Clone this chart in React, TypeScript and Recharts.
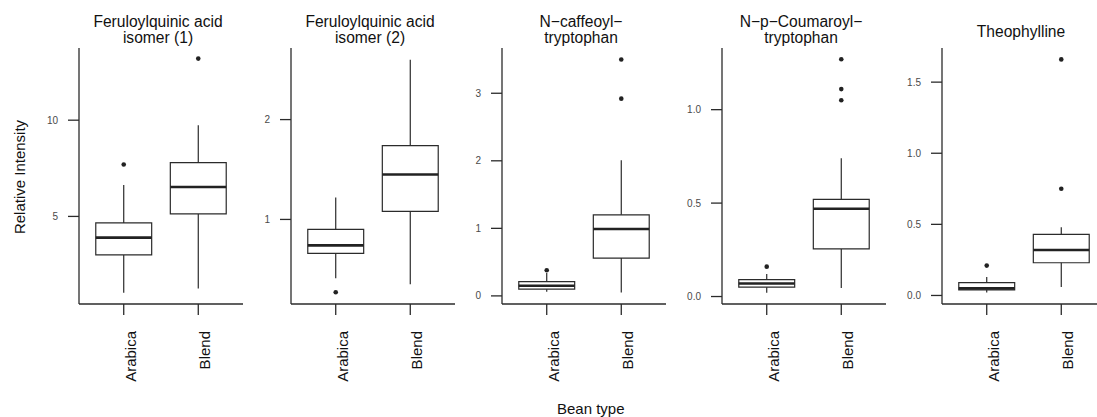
import React from 'react';
import { ComposedChart, XAxis, YAxis, ReferenceArea, ReferenceLine, Scatter } from 'recharts';

// bean types on the x axis (positions 1 and 2)
const categories = ['Arabica', 'Blend'];

// box stats per bean type: [lower whisker, Q1, median, Q3, upper whisker]
const fqa1Stats = [
  [1.04, 3.0, 3.9, 4.66, 6.63],
  [1.25, 5.13, 6.53, 7.8, 9.74],
];
const fqa1Outliers = [[7.7], [13.2]];

const fqa2Stats = [
  [0.41, 0.66, 0.74, 0.9, 1.22],
  [0.35, 1.08, 1.45, 1.74, 2.6],
];
const fqa2Outliers = [[0.27], []];

const caffStats = [
  [0.06, 0.1, 0.15, 0.21, 0.34],
  [0.05, 0.56, 0.99, 1.2, 2.01],
];
const caffOutliers = [[0.38], [2.92, 3.5]];

const coumStats = [
  [0.02, 0.05, 0.07, 0.09, 0.12],
  [0.045, 0.255, 0.47, 0.52, 0.74],
];
const coumOutliers = [[0.16], [1.05, 1.11, 1.27]];

const theoStats = [
  [0.02, 0.04, 0.05, 0.09, 0.13],
  [0.06, 0.23, 0.32, 0.43, 0.48],
];
const theoOutliers = [[0.21], [0.75, 1.66]];

const fqa1Ticks = [5, 10];
const fqa2Ticks = [1, 2];
const caffTicks = [0, 1, 2, 3];
const coumTicks = [0, 0.5, 1.0];
const theoTicks = [0, 0.5, 1.0, 1.5];

const panels = [
  { title: ['Feruloylquinic acid', 'isomer (1)'], stats: fqa1Stats, outliers: fqa1Outliers, domain: [0.45, 13.75], ticks: fqa1Ticks, digits: 0, axisX: 79 },
  { title: ['Feruloylquinic acid', 'isomer (2)'], stats: fqa2Stats, outliers: fqa2Outliers, domain: [0.153, 2.717], ticks: fqa2Ticks, digits: 0, axisX: 291 },
  { title: ['N\u2212caffeoyl\u2212', 'tryptophan'], stats: caffStats, outliers: caffOutliers, domain: [-0.12, 3.67], ticks: caffTicks, digits: 0, axisX: 502 },
  { title: ['N\u2212p\u2212Coumaroyl\u2212', 'tryptophan'], stats: coumStats, outliers: coumOutliers, domain: [-0.04, 1.33], ticks: coumTicks, digits: 1, axisX: 722 },
  { title: ['Theophylline'], stats: theoStats, outliers: theoOutliers, domain: [-0.06, 1.74], ticks: theoTicks, digits: 1, axisX: 942 },
];

const FONT = '"Liberation Sans", Arial, Helvetica, sans-serif';
const INK = '#2b2b2b';
const YW = 60; // y axis width
const PLOT_W = 164;
const HALF = 0.375; // half box width in category units

const CatTick = (props: any) => {
  const { x, y, payload } = props;
  return (
    <text
      transform={`translate(${x + 12},${y}) rotate(-90)`}
      textAnchor="end"
      fontSize={15}
      fontFamily={FONT}
      fill="#111"
    >
      {categories[Math.round(payload.value) - 1]}
    </text>
  );
};

const Dot = (props: any) => <circle cx={props.cx} cy={props.cy} r={2.3} fill="#222" />;

function Panel({ p }: { p: any }) {
  const outData = p.outliers.flatMap((vals: number[], i: number) => vals.map((v) => ({ x: i + 1, y: v })));
  const twoLine = p.title.length > 1;
  return (
    <>
      <div
        style={{
          position: 'absolute',
          left: p.axisX - 3,
          width: PLOT_W,
          top: twoLine ? 14 : 24,
          textAlign: 'center',
          fontSize: 15.6,
          lineHeight: '16px',
          fontFamily: FONT,
          color: '#111',
          whiteSpace: 'nowrap',
        }}
      >
        {p.title.map((t: string) => (
          <div key={t}>{t}</div>
        ))}
      </div>
      <div style={{ position: 'absolute', left: p.axisX - YW, top: 0 }}>
        <ComposedChart width={YW + PLOT_W} height={417} margin={{ top: 48, right: 0, bottom: 0, left: 0 }}>
          <XAxis
            type="number"
            dataKey="x"
            domain={[0.4, 2.6]}
            ticks={[1, 2]}
            interval={0}
            height={113}
            tickSize={11}
            tickMargin={16}
            tick={<CatTick />}
            stroke={INK}
            strokeWidth={1.3}
            allowDataOverflow
          />
          <YAxis
            type="number"
            dataKey="y"
            domain={p.domain}
            ticks={p.ticks}
            interval={0}
            width={YW}
            tickSize={11}
            tickMargin={10}
            tickFormatter={(v: number) => v.toFixed(p.digits)}
            tick={{ fontSize: 10, fill: '#4a4a4a', fontFamily: FONT }}
            stroke={INK}
            strokeWidth={1.3}
            allowDataOverflow
          />
          {p.stats.map((s: number[], i: number) => (
            <ReferenceLine
              key={`lo${i}`}
              segment={[{ x: i + 1, y: s[0] }, { x: i + 1, y: s[1] }]}
              stroke={INK}
              strokeWidth={1.2}
            />
          ))}
          {p.stats.map((s: number[], i: number) => (
            <ReferenceLine
              key={`hi${i}`}
              segment={[{ x: i + 1, y: s[3] }, { x: i + 1, y: s[4] }]}
              stroke={INK}
              strokeWidth={1.2}
            />
          ))}
          {p.stats.map((s: number[], i: number) => (
            <ReferenceArea
              key={`box${i}`}
              x1={i + 1 - HALF}
              x2={i + 1 + HALF}
              y1={s[1]}
              y2={s[3]}
              fill="#fff"
              fillOpacity={1}
              stroke={INK}
              strokeWidth={1.2}
            />
          ))}
          {p.stats.map((s: number[], i: number) => (
            <ReferenceLine
              key={`med${i}`}
              segment={[{ x: i + 1 - HALF, y: s[2] }, { x: i + 1 + HALF, y: s[2] }]}
              stroke="#222"
              strokeWidth={2.6}
            />
          ))}
          <Scatter data={outData} dataKey="y" shape={<Dot />} isAnimationActive={false} />
        </ComposedChart>
      </div>
    </>
  );
}

export default function App() {
  return (
    <div
      style={{
        position: 'absolute',
        left: 0,
        top: 0,
        width: 1097,
        height: 417,
        overflow: 'hidden',
        background: '#fff',
        fontFamily: FONT,
      }}
    >
      {panels.map((p, i) => (
        <Panel key={i} p={p} />
      ))}
      <div
        style={{
          position: 'absolute',
          left: 19,
          top: 177,
          transform: 'translate(-50%, -50%) rotate(-90deg)',
          fontSize: 15,
          color: '#111',
          whiteSpace: 'nowrap',
        }}
      >
        Relative Intensity
      </div>
      <div
        style={{
          position: 'absolute',
          left: 557,
          top: 400,
          fontSize: 15,
          lineHeight: '17px',
          color: '#111',
          whiteSpace: 'nowrap',
        }}
      >
        Bean type
      </div>
    </div>
  );
}
